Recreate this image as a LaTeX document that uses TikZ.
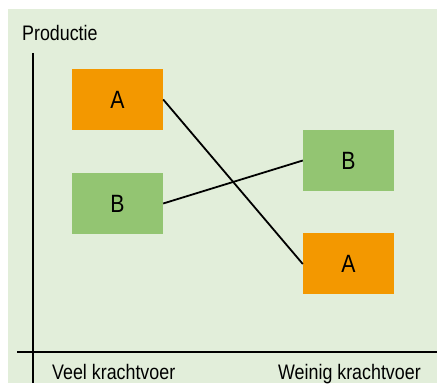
\documentclass[tikz,border=0pt]{standalone}
\usepackage{fontspec}
\setmainfont[FakeStretch=0.85]{Liberation Sans}
\definecolor{panelbg}{HTML}{E2EEDA}
\definecolor{boxorange}{HTML}{F39800}
\definecolor{boxgreen}{HTML}{93C572}
\tikzset{
  prodbox/.style={minimum width=91pt, minimum height=61pt, inner sep=0pt,
    font=\fontsize{25}{25}\selectfont},
  axis/.style={line width=1.3pt},
  link/.style={line width=1.8pt},
  axlabel/.style={font=\fontsize{21}{21}\selectfont, inner sep=0pt, anchor=base west}
}
\begin{document}
\begin{tikzpicture}[x=1pt, y=-1pt]
  \useasboundingbox (0,0) rectangle (439,387);
  \fill[panelbg] (8,9) rectangle (437,383);

  % axes
  \coordinate (ytop) at (33,53);
  \coordinate (ybot) at (33,383);
  \coordinate (xleft) at (17,352);
  \coordinate (xright) at (437,352);
  \draw[axis] (ytop) -- (ybot);
  \draw[axis] (xleft) -- (xright);

  \node[axlabel] (ylab) at (22,40.5) {Productie};
  \node[axlabel] (veel) at (52,379) {Veel krachtvoer};
  \node[axlabel] (weinig) at (278,379) {Weinig krachtvoer};

  % production boxes
  \node[prodbox, fill=boxorange] (a1) at (117.5,99.5) {A};
  \node[prodbox, fill=boxgreen] (b1) at (117.5,203.5) {B};
  \node[prodbox, fill=boxgreen] (b2) at (348.5,160.5) {B};
  \node[prodbox, fill=boxorange] (a2) at (348.5,264) {A};

  \draw[link] (a1.east) -- (a2.west);
  \draw[link] (b1.east) -- (b2.west);
\end{tikzpicture}
\end{document}
